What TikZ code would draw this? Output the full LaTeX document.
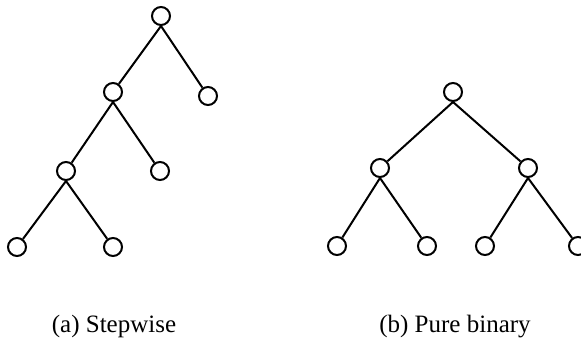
\documentclass[tikz,border=0pt]{standalone}
\usepackage{fontspec}
\setmainfont{Liberation Serif}
\begin{document}
\begin{tikzpicture}[x=1pt,y=-1pt,
  tnode/.style={circle,draw,line width=2pt,minimum size=18pt,inner sep=0pt},
  tedge/.style={line width=2pt},
  caption/.style={anchor=base,font=\fontsize{25}{30}\selectfont,inner sep=0pt}]
\useasboundingbox (0,0) rectangle (581,340);
% tree (a)
\node[tnode] (ar) at (161,16) {};
\node[tnode] (a1) at (113,92) {};
\node[tnode] (a2) at (208,96) {};
\node[tnode] (a11) at (66,171) {};
\node[tnode] (a12) at (160,171) {};
\node[tnode] (a111) at (17,247) {};
\node[tnode] (a112) at (113,247) {};
\draw[tedge] (ar.south) -- (a1);
\draw[tedge] (ar.south) -- (a2);
\draw[tedge] (a1.south) -- (a11);
\draw[tedge] (a1.south) -- (a12);
\draw[tedge] (a11.south) -- (a111);
\draw[tedge] (a11.south) -- (a112);
% tree (b)
\node[tnode] (br) at (453,92) {};
\node[tnode] (b1) at (380,168) {};
\node[tnode] (b2) at (528,168) {};
\node[tnode] (b11) at (337,246) {};
\node[tnode] (b12) at (427,246) {};
\node[tnode] (b21) at (485,246) {};
\node[tnode] (b22) at (578,246) {};
\draw[tedge] (br.south) -- (b1);
\draw[tedge] (br.south) -- (b2);
\draw[tedge] (b1.south) -- (b11);
\draw[tedge] (b1.south) -- (b12);
\draw[tedge] (b2.south) -- (b21);
\draw[tedge] (b2.south) -- (b22);
% captions
\node[caption] (capa) at (114,332) {(a) Stepwise};
\node[caption] (capb) at (455,332) {(b) Pure binary};
\end{tikzpicture}
\end{document}
